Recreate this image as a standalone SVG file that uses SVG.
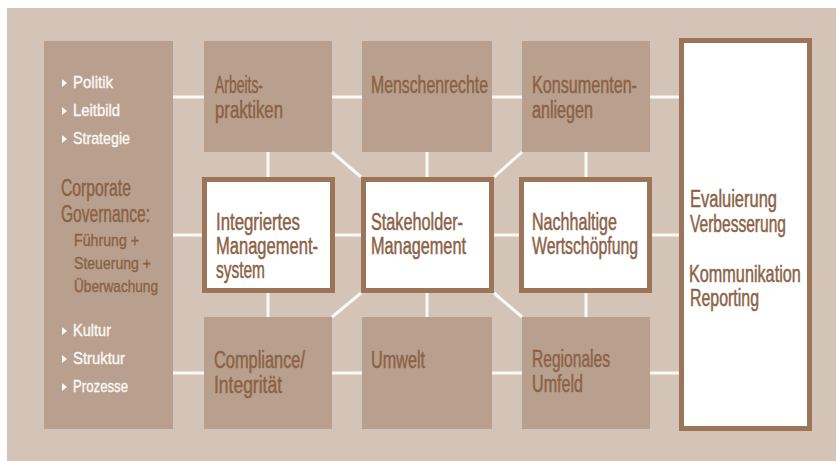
<svg xmlns="http://www.w3.org/2000/svg" width="836" height="461" viewBox="0 0 836 461">
<style>
.panel{fill:#d4c4b7}
.box{fill:#b9a08e}
.wbox{fill:#ffffff;stroke:#9c7457;stroke-width:5}
.t{font-family:"Liberation Sans Narrow","Liberation Sans",Arial,sans-serif;font-size:23px;fill:#8b6246;stroke:#8b6246;stroke-width:0.5}
.s{font-family:"Liberation Sans Narrow","Liberation Sans",Arial,sans-serif;font-size:17px;fill:#8b6246;stroke:#8b6246;stroke-width:0.4}
.w{font-family:"Liberation Sans Narrow","Liberation Sans",Arial,sans-serif;font-size:17px;fill:#fbf7f3;stroke:#fbf7f3;stroke-width:0.4}
.tri{fill:#fbf7f3}
.conn line{stroke:#fbf8f5;stroke-width:3}
</style>
<rect class="panel" x="7" y="8" width="829" height="453"/>
<g id="connectors" class="conn">
<line x1="173" y1="97" x2="204" y2="97"/>
<line x1="332" y1="97" x2="362" y2="97"/>
<line x1="492" y1="97" x2="522" y2="97"/>
<line x1="650" y1="97" x2="680" y2="97"/>
<line x1="173" y1="235" x2="203" y2="235"/>
<line x1="334" y1="235" x2="362" y2="235"/>
<line x1="493" y1="235" x2="520" y2="235"/>
<line x1="651" y1="235" x2="680" y2="235"/>
<line x1="173" y1="373" x2="204" y2="373"/>
<line x1="332" y1="373" x2="362" y2="373"/>
<line x1="492" y1="373" x2="522" y2="373"/>
<line x1="650" y1="373" x2="680" y2="373"/>
<line x1="268" y1="152" x2="268" y2="178"/>
<line x1="427" y1="152" x2="427" y2="178"/>
<line x1="586" y1="152" x2="586" y2="178"/>
<line x1="268" y1="292" x2="268" y2="317"/>
<line x1="427" y1="292" x2="427" y2="317"/>
<line x1="586" y1="292" x2="586" y2="317"/>
<line x1="332" y1="152" x2="361" y2="177"/>
<line x1="522" y1="152" x2="494" y2="177"/>
<line x1="361" y1="293" x2="332" y2="317"/>
<line x1="494" y1="293" x2="522" y2="317"/>
</g>
<g id="governance">
<rect class="box" x="44" y="41" width="129" height="388"/>
<polygon class="tri" points="62,79 62,87 67,83"/>
<text class="w" x="73" y="88" textLength="40" lengthAdjust="spacingAndGlyphs">Politik</text>
<polygon class="tri" points="62,107 62,115 67,111"/>
<text class="w" x="73" y="116" textLength="47" lengthAdjust="spacingAndGlyphs">Leitbild</text>
<polygon class="tri" points="62,135 62,143 67,139"/>
<text class="w" x="73" y="144" textLength="57" lengthAdjust="spacingAndGlyphs">Strategie</text>
<text class="t" x="61" y="196" textLength="70" lengthAdjust="spacingAndGlyphs">Corporate</text>
<text class="t" x="61" y="222" textLength="89" lengthAdjust="spacingAndGlyphs">Governance:</text>
<text class="s" x="74" y="246" textLength="65" lengthAdjust="spacingAndGlyphs">Führung +</text>
<text class="s" x="74" y="269" textLength="77" lengthAdjust="spacingAndGlyphs">Steuerung +</text>
<text class="s" x="74" y="292" textLength="84" lengthAdjust="spacingAndGlyphs">Überwachung</text>
<polygon class="tri" points="62,327 62,335 67,331"/>
<text class="w" x="73" y="336" textLength="38" lengthAdjust="spacingAndGlyphs">Kultur</text>
<polygon class="tri" points="62,355 62,363 67,359"/>
<text class="w" x="73" y="364" textLength="52" lengthAdjust="spacingAndGlyphs">Struktur</text>
<polygon class="tri" points="62,383 62,391 67,387"/>
<text class="w" x="73" y="392" textLength="55" lengthAdjust="spacingAndGlyphs">Prozesse</text>
</g>
<g id="arbeitspraktiken">
<rect class="box" x="204" y="41" width="128" height="111"/>
<text class="t" x="215" y="93" textLength="48" lengthAdjust="spacingAndGlyphs">Arbeits-</text>
<text class="t" x="215" y="118" textLength="68" lengthAdjust="spacingAndGlyphs">praktiken</text>
</g>
<g id="menschenrechte">
<rect class="box" x="362" y="41" width="130" height="111"/>
<text class="t" x="371" y="93" textLength="117" lengthAdjust="spacingAndGlyphs">Menschenrechte</text>
</g>
<g id="konsumentenanliegen">
<rect class="box" x="522" y="41" width="128" height="111"/>
<text class="t" x="532" y="93" textLength="105" lengthAdjust="spacingAndGlyphs">Konsumenten-</text>
<text class="t" x="532" y="118" textLength="61" lengthAdjust="spacingAndGlyphs">anliegen</text>
</g>
<g id="integriertes">
<rect class="wbox" x="204.5" y="179.5" width="128" height="111"/>
<text class="t" x="216" y="230" textLength="84" lengthAdjust="spacingAndGlyphs">Integriertes</text>
<text class="t" x="216" y="254" textLength="102" lengthAdjust="spacingAndGlyphs">Management-</text>
<text class="t" x="216" y="278" textLength="49" lengthAdjust="spacingAndGlyphs">system</text>
</g>
<g id="stakeholder">
<rect class="wbox" x="363.5" y="179.5" width="128" height="111"/>
<text class="t" x="371" y="230" textLength="92" lengthAdjust="spacingAndGlyphs">Stakeholder-</text>
<text class="t" x="371" y="254" textLength="95" lengthAdjust="spacingAndGlyphs">Management</text>
</g>
<g id="nachhaltige">
<rect class="wbox" x="521.5" y="179.5" width="128" height="111"/>
<text class="t" x="532" y="230" textLength="85" lengthAdjust="spacingAndGlyphs">Nachhaltige</text>
<text class="t" x="532" y="254" textLength="106" lengthAdjust="spacingAndGlyphs">Wertschöpfung</text>
</g>
<g id="compliance">
<rect class="box" x="204" y="317" width="128" height="112"/>
<text class="t" x="214" y="368" textLength="91" lengthAdjust="spacingAndGlyphs">Compliance/</text>
<text class="t" x="214" y="393" textLength="68" lengthAdjust="spacingAndGlyphs">Integrität</text>
</g>
<g id="umwelt">
<rect class="box" x="362" y="317" width="130" height="112"/>
<text class="t" x="371" y="368" textLength="54" lengthAdjust="spacingAndGlyphs">Umwelt</text>
</g>
<g id="regionales">
<rect class="box" x="522" y="317" width="128" height="112"/>
<text class="t" x="532" y="367" textLength="78" lengthAdjust="spacingAndGlyphs">Regionales</text>
<text class="t" x="532" y="392" textLength="51" lengthAdjust="spacingAndGlyphs">Umfeld</text>
</g>
<g id="evaluierung">
<rect class="wbox" x="681.5" y="40.5" width="128" height="388"/>
<text class="t" x="690" y="207" textLength="87" lengthAdjust="spacingAndGlyphs">Evaluierung</text>
<text class="t" x="690" y="232" textLength="96" lengthAdjust="spacingAndGlyphs">Verbesserung</text>
<text class="t" transform="translate(689,282) scale(0.69,1)" x="0" y="0" textLength="162" lengthAdjust="spacingAndGlyphs">Kommunikation</text>
<text class="t" x="690" y="306" textLength="69" lengthAdjust="spacingAndGlyphs">Reporting</text>
</g>
</svg>
